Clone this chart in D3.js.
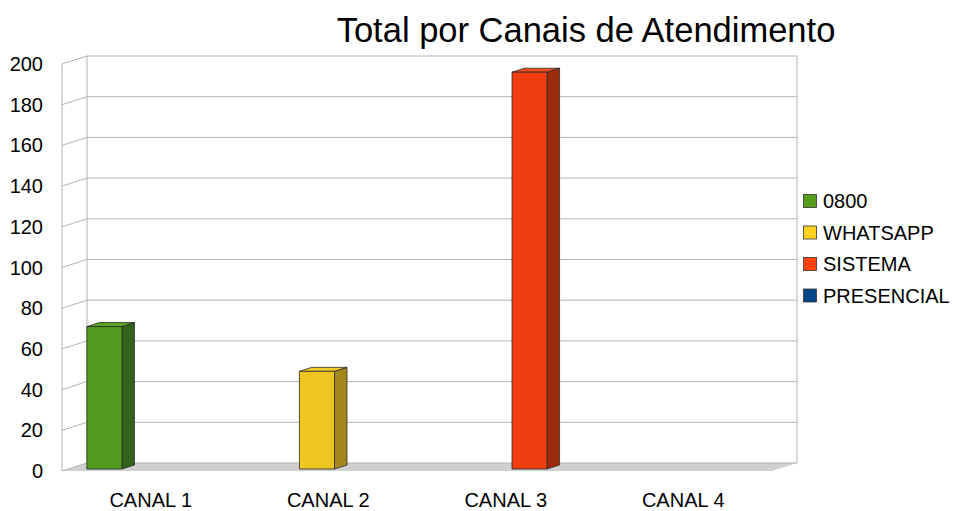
<!DOCTYPE html>
<html>
<head>
<meta charset="utf-8">
<script src="https://cdn.jsdelivr.net/npm/d3@7"></script>
<style>
body { margin: 0; background: #fff; }
text { font-family: "Liberation Sans", Arial, sans-serif; fill: #000; }
</style>
</head>
<body>
<svg id="chart" width="955" height="511"></svg>
<script>
var categories = ["CANAL 1", "CANAL 2", "CANAL 3", "CANAL 4"];
var series = ["0800", "WHATSAPP", "SISTEMA", "PRESENCIAL"];
var values_0800 = [70, 0, 0, 0];
var values_whatsapp = [0, 48, 0, 0];
var values_sistema = [0, 0, 195, 0];
var values_presencial = [0, 0, 0, 0];
var y_ticks = [0, 20, 40, 60, 80, 100, 120, 140, 160, 180, 200];

var all_values = [values_0800, values_whatsapp, values_sistema, values_presencial];
var colors = ["#579d1c", "#ffd320", "#ff420e", "#004586"];
var front_colors = ["#529a1e", "#efc51f", "#f03d0f", "#00437f"];
var side_colors = ["#33621a", "#a4871a", "#9e2a0c", "#002b55"];
var top_colors = ["#5aa526", "#f3cc2a", "#f24a1c", "#0a4f90"];

var svg = d3.select("#chart");
var left = 62, right = 772, bottom = 471, top_y = 64;
var depth_x = 25, depth_y = -8;

var x0 = d3.scaleBand().domain(categories).range([left, right]).padding(0);
var x1 = d3.scaleBand().domain(series).range([0, x0.bandwidth()]).paddingInner(0).paddingOuter(0.53);
var y = d3.scaleLinear().domain([0, 200]).range([bottom, top_y]);

// floor
svg.append("polygon")
    .attr("points", [[left, bottom], [right, bottom], [right + depth_x, bottom + depth_y], [left + depth_x, bottom + depth_y]].join(" "))
    .attr("fill", "#d0d0d0");

// back wall + left wall grid
var grid = svg.append("g").attr("stroke", "#b3b3b3").attr("stroke-width", 1).attr("fill", "none");
y_ticks.forEach(function (t) {
    grid.append("line")
        .attr("x1", left + depth_x).attr("x2", right + depth_x)
        .attr("y1", y(t) + depth_y).attr("y2", y(t) + depth_y);
    grid.append("line")
        .attr("x1", left).attr("x2", left + depth_x)
        .attr("y1", y(t)).attr("y2", y(t) + depth_y);
});
grid.append("line")
    .attr("x1", left + depth_x).attr("x2", left + depth_x)
    .attr("y1", y(200) + depth_y).attr("y2", y(0) + depth_y);
grid.append("line")
    .attr("x1", right + depth_x).attr("x2", right + depth_x)
    .attr("y1", y(200) + depth_y).attr("y2", y(0) + depth_y);
grid.append("line")
    .attr("x1", left).attr("x2", left)
    .attr("y1", y(200)).attr("y2", y(0));

// bars
var bars = svg.append("g").attr("stroke", "#2a2a2a").attr("stroke-width", 0.8).attr("stroke-linejoin", "round");
series.forEach(function (s, si) {
    categories.forEach(function (c, ci) {
        var v = all_values[si][ci];
        if (!v) return;
        var w = x1.bandwidth();
        var bx = x0(c) + x1(s) + 0.25 * depth_x;
        var yt = y(v) + 0.25 * depth_y;
        var yb = y(0) + 0.25 * depth_y;
        var dx = 0.5 * depth_x, dy = 0.5 * depth_y;
        bars.append("polygon")
            .attr("points", [[bx + w, yt], [bx + w + dx, yt + dy], [bx + w + dx, yb + dy], [bx + w, yb]].join(" "))
            .attr("fill", side_colors[si]);
        bars.append("polygon")
            .attr("points", [[bx, yt], [bx + w, yt], [bx + w + dx, yt + dy], [bx + dx, yt + dy]].join(" "))
            .attr("fill", top_colors[si]);
        bars.append("rect")
            .attr("x", bx).attr("y", yt)
            .attr("width", w).attr("height", yb - yt)
            .attr("fill", front_colors[si]);
    });
});

// y labels
svg.append("g").selectAll("text").data(y_ticks).enter().append("text")
    .attr("x", 43).attr("y", function (d) { return y(d) + 7; })
    .attr("text-anchor", "end")
    .style("font-size", "20px")
    .text(function (d) { return d; });

// x labels
svg.append("g").selectAll("text").data(categories).enter().append("text")
    .attr("x", function (d) { return x0(d) + x0.bandwidth() / 2; })
    .attr("y", 507)
    .attr("text-anchor", "middle")
    .style("font-size", "20px")
    .text(function (d) { return d; });

// title
svg.append("text")
    .attr("x", 586).attr("y", 42)
    .attr("text-anchor", "middle")
    .style("font-size", "34.5px")
    .text("Total por Canais de Atendimento");

// legend
var legend = svg.append("g");
series.forEach(function (s, i) {
    var cy = 201 + i * 31.5;
    legend.append("rect")
        .attr("x", 803.5).attr("y", cy - 6.5)
        .attr("width", 13).attr("height", 13)
        .attr("fill", colors[i])
        .attr("stroke", "#333").attr("stroke-width", 0.8);
    legend.append("text")
        .attr("x", 823).attr("y", cy + 7)
        .style("font-size", "20px")
        .text(s);
});
</script>
</body>
</html>
